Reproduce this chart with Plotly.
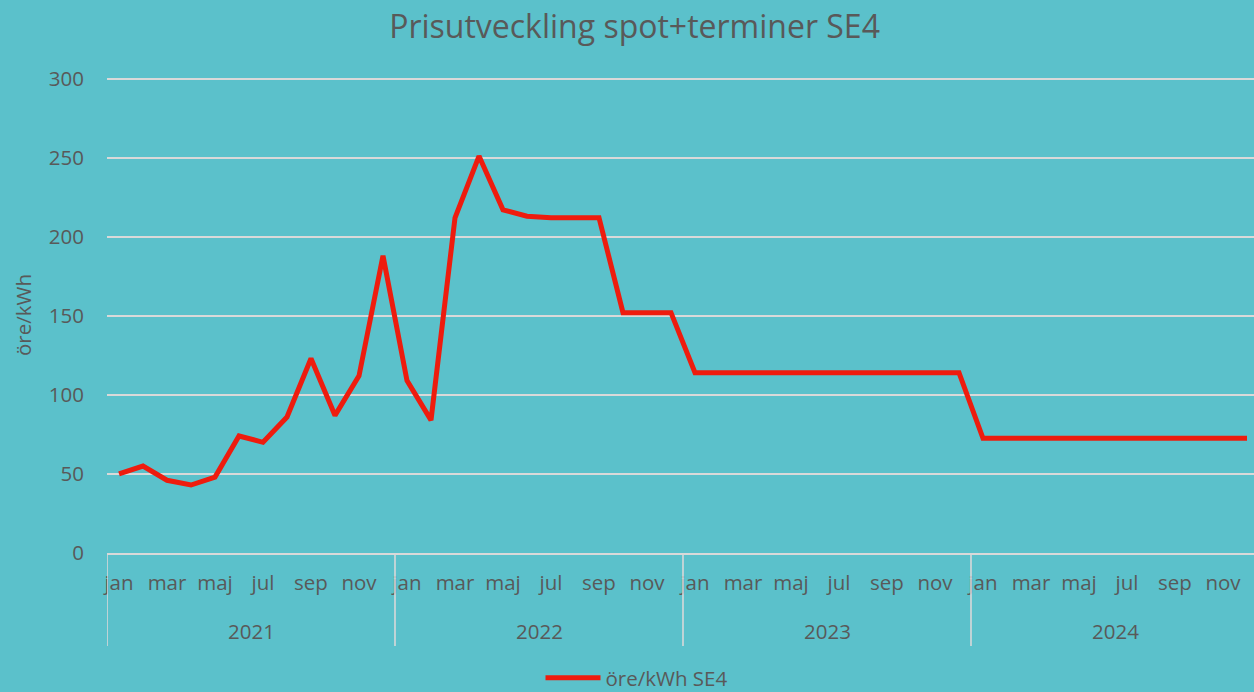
import plotly.graph_objects as go

years = ["2021", "2022", "2023", "2024"]
months = ["jan", "feb", "mar", "apr", "maj", "jun", "jul", "aug", "sep", "okt", "nov", "dec"]
values_2021 = [50, 55, 46, 43, 48, 74, 70, 86, 123, 87, 112, 188]
values_2022 = [109, 84, 212, 251, 217, 213, 212, 212, 212, 152, 152, 152]
values_2023 = [114, 114, 114, 114, 114, 114, 114, 114, 114, 114, 114, 114]
values_2024 = [72.5] * 12
series_name = "öre/kWh SE4"
y_ticks = [0, 50, 100, 150, 200, 250, 300]

values = values_2021 + values_2022 + values_2023 + values_2024
idx = list(range(len(values)))
tick_idx = [i for i in idx if i % 2 == 0]
tick_text = [months[i % 12] for i in tick_idx]

BG = "#5BC1CB"
TXT = "#595959"
GRID = "#D9D9D9"
FONT = "Open Sans"
FS = 20.5

fig = go.Figure()
fig.add_trace(go.Scatter(
    x=idx, y=values, mode="lines", name=series_name,
    line=dict(color="#EE1C0E", width=5), showlegend=True,
))

W, H = 1254, 692
ml, mr, mt, mb = 107, 0, 77, 139
plot_h = H - mt - mb

# year labels and dividers
for k, yr in enumerate(years):
    fig.add_annotation(x=k * 12 + 5.5, y=(553 - 631) / plot_h, xref="x", yref="paper",
                       text=yr, showarrow=False, yanchor="middle",
                       font=dict(family=FONT, size=FS, color=TXT))
for k in range(len(years) + 1):
    fig.add_shape(type="line", xref="x", yref="paper",
                  x0=k * 12 - 0.5, x1=k * 12 - 0.5, y0=0, y1=(553 - 646) / plot_h,
                  line=dict(color=GRID, width=1.6), layer="above")

fig.update_layout(
    width=W, height=H,
    margin=dict(l=ml, r=mr, t=mt, b=mb, autoexpand=False),
    paper_bgcolor=BG, plot_bgcolor=BG,
    font=dict(family=FONT, color=TXT, size=FS),
    title=dict(text="Prisutveckling spot+terminer SE4", x=0.506, xanchor="center",
               y=1 - 27 / H, yanchor="middle", yref="container",
               font=dict(family=FONT, size=32, color=TXT)),
    xaxis=dict(range=[-0.5, 47.5 - 5 / 24], tickmode="array", tickvals=tick_idx,
               ticktext=tick_text, showgrid=False, zeroline=False,
               showline=True, linecolor=GRID, linewidth=1.6,
               ticks="", ticklabelstandoff=11,
               tickfont=dict(family=FONT, size=FS, color=TXT)),
    yaxis=dict(range=[0, 301], tickvals=y_ticks, showgrid=True, gridcolor=GRID,
               gridwidth=1.6, zeroline=False, showline=False, ticks="",
               ticklabelstandoff=22,
               tickfont=dict(family=FONT, size=FS, color=TXT),
               title=dict(text="öre/kWh", standoff=11,
                          font=dict(family=FONT, size=FS, color=TXT))),
    legend=dict(orientation="h", x=(636.5 - ml) / (W - ml), xanchor="center",
                yref="container", y=1 - 678 / H, yanchor="middle",
                bgcolor="rgba(0,0,0,0)", itemwidth=55,
                font=dict(family=FONT, size=FS, color=TXT)),
)

fig.write_html("out.html", config={"displayModeBar": False},
               post_script="document.body.style.margin='0';document.body.style.overflow='hidden';")
